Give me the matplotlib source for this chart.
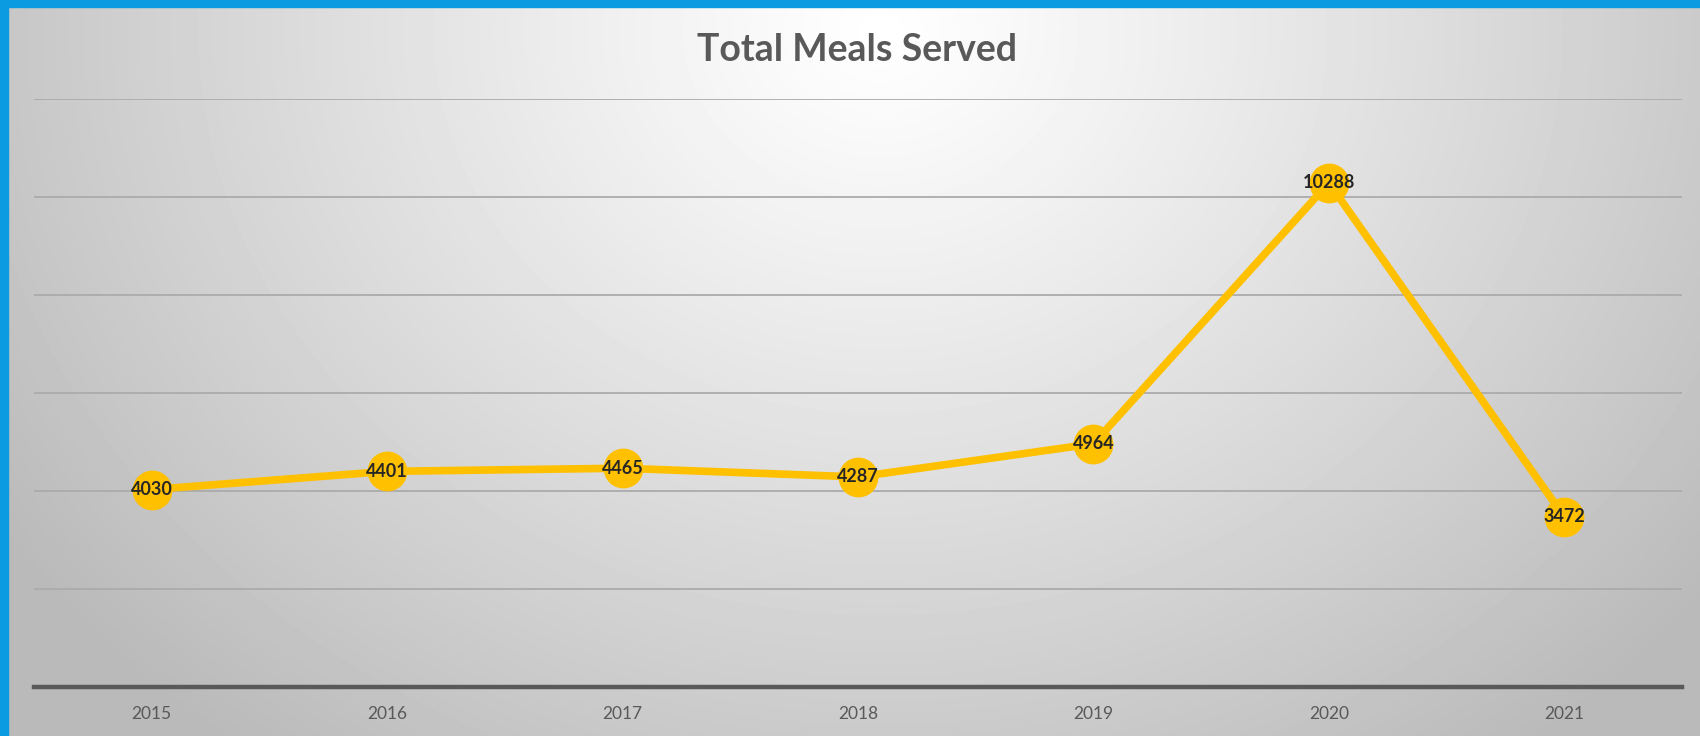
import numpy as np
import matplotlib

matplotlib.use("Agg")
import matplotlib.pyplot as plt
from matplotlib.patches import Rectangle

# ----- data -----------------------------------------------------------------

years = ["2015", "2016", "2017", "2018", "2019", "2020", "2021"]
meals = [4030, 4401, 4465, 4287, 4964, 10288, 3472]
y_ticks = [0, 2000, 4000, 6000, 8000, 10000, 12000]

LINE_COLOR = "#FFC000"
TEXT_GRAY = "#595959"
BORDER_BLUE = "#0A9BE0"

plt.rcParams["font.family"] = ["Lato", "DejaVu Sans"]

W, H = 1700, 736
fig = plt.figure(figsize=(W / 100, H / 100), dpi=100)

# radial grey gradient behind everything
bg = fig.add_axes([0, 0, 1, 1], zorder=-10)
yy, xx = np.mgrid[0:H, 0:W]
d = np.sqrt(((xx - 880) / 1050.0) ** 2 + ((yy - 30) / 900.0) ** 2)
shade = 1.0 - 0.27 * np.clip(d, 0, 1) ** 1.1
bg.imshow(shade, cmap="gray", vmin=0, vmax=1, aspect="auto", extent=[0, W, H, 0])
bg.add_patch(Rectangle((0, 0), W, 7, color=BORDER_BLUE))
bg.add_patch(Rectangle((0, 0), 8, H, color=BORDER_BLUE))
bg.set_xlim(0, W)
bg.set_ylim(H, 0)
bg.axis("off")

ax = fig.add_axes([34 / W, 1 - 687 / H, (1682 - 34) / W, (687 - 99) / H])
ax.patch.set_alpha(0)

x = np.arange(len(years))
ax.plot(x, meals, color=LINE_COLOR, lw=5.5, solid_capstyle="round", zorder=3)
ax.scatter(x, meals, s=37 ** 2 * 0.6, color=LINE_COLOR, zorder=4, linewidths=0)
for xi, v in zip(x, meals):
    ax.text(xi, v, str(v), ha="center", va="center", fontsize=13,
            fontweight="bold", color="#262626", zorder=5)

ax.set_xlim(-0.5, len(years) - 0.5)
ax.set_ylim(y_ticks[0], y_ticks[-1])
for t in y_ticks[1:]:
    ax.axhline(t, color="#ababab", lw=1.3, zorder=1)
ax.axhline(0, color=TEXT_GRAY, lw=3.2, zorder=2, clip_on=False)

ax.set_xticks(x)
ax.set_xticklabels(years, color=TEXT_GRAY, fontsize=12.5)
ax.tick_params(axis="x", length=0, pad=14)
ax.set_yticks([])
for s in ax.spines.values():
    s.set_visible(False)

fig.text(857 / W, 1 - 50 / H, "Total Meals Served", ha="center", va="center",
         fontsize=27, fontweight="bold", color=TEXT_GRAY)

fig.savefig("out.png", dpi=100)
